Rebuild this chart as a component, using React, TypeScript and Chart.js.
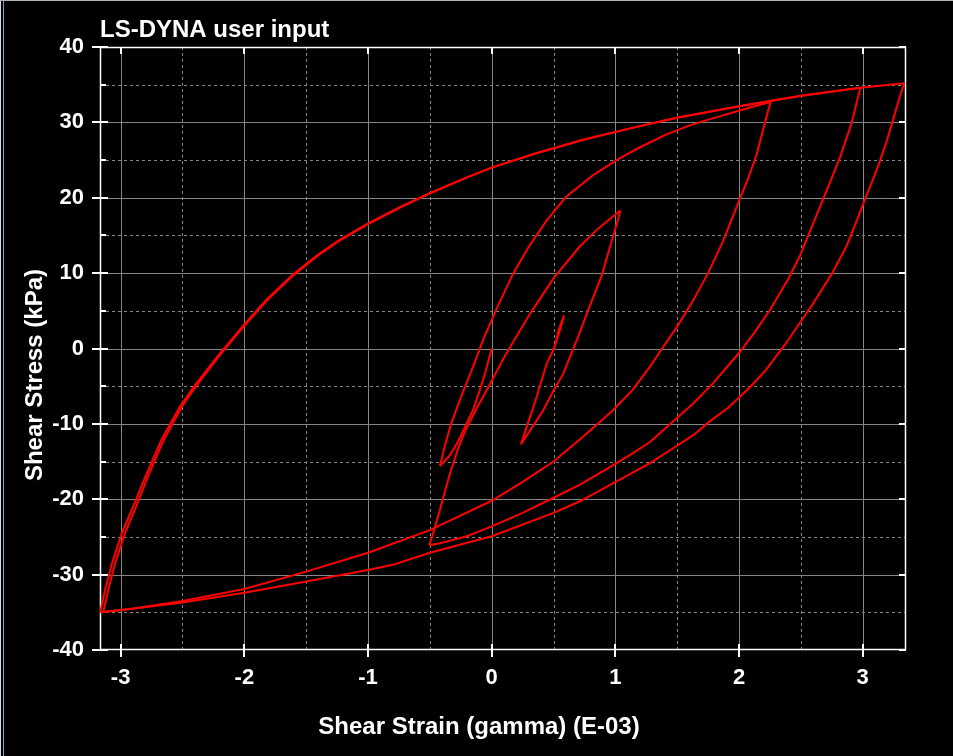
import React, { useEffect, useRef } from "react";
import { Chart, registerables } from "chart.js";

Chart.register(...registerables);

const FONT = '"Liberation Sans", Arial, Helvetica, sans-serif';

// ---- axis ticks ----
const xMajor = [-3, -2, -1, 0, 1, 2, 3];
const xMinor = [-2.5, -1.5, -0.5, 0.5, 1.5, 2.5];
const yMajor = [-40, -30, -20, -10, 0, 10, 20, 30, 40];
const yMinor = [-35, -25, -15, -5, 5, 15, 25, 35];
const xMin = -3.167;
const xMax = 3.35;
const yMin = -40;
const yMax = 40;

const titleText = "LS-DYNA user input";
const xTitle = "Shear Strain (gamma) (E-03)";
const yTitle = "Shear Stress (kPa)";

// ---- hysteresis branches (strain E-03, stress kPa) ----
// 1: initial loading 0 -> first reversal
const strainB1 = [0, -0.05, -0.1, -0.15, -0.21, -0.27, -0.34, -0.418];
const stressB1 = [0, -3.1, -5.7, -8.1, -10.2, -12.3, -14.2, -15.6];

// 2: reload to (2.25, 32.7)
const strainB2 = [-0.418, -0.38, -0.33, -0.25, -0.15, -0.07, 0.04, 0.175, 0.3, 0.445, 0.6, 0.82, 1.04, 1.2, 1.4, 1.6, 1.8, 1.95, 2.14, 2.255];
const stressB2 = [-15.6, -13.0, -10.1, -6.5, -2.4, 1.1, 5.3, 10.0, 13.5, 17.0, 20.1, 23.0, 25.3, 26.7, 28.3, 29.6, 30.6, 31.3, 32.2, 32.7];

// 3: unload to (-3.17, -35)
const strainB3 = [2.255, 2.21, 2.14, 2.07, 2.0, 1.94, 1.87, 1.75, 1.63, 1.5, 1.37, 1.28, 1.14, 0.98, 0.85, 0.71, 0.5, 0.25, 0, -0.5, -1.0, -1.5, -2.0, -2.5, -2.94, -3.165];
const stressB3 = [32.7, 30.0, 25.6, 22.4, 19.6, 17.1, 14.2, 10.0, 6.4, 2.9, -0.2, -2.4, -5.5, -8.2, -10.1, -12.1, -15.0, -17.7, -20.2, -24.1, -27.1, -29.6, -31.9, -33.5, -34.6, -35.0];

// 4: reload to (3.335, 35.2)
const strainB4 = [-3.165, -3.126, -3.07, -2.99, -2.91, -2.8, -2.67, -2.52, -2.4, -2.21, -2.0, -1.82, -1.6, -1.4, -1.23, -1.01, -0.74, -0.5, -0.2, 0, 0.34, 0.74, 1.145, 1.495, 1.99, 2.49, 2.98, 3.335];
const stressB4 = [-35.0, -32.0, -28.5, -24.5, -21.4, -17.0, -12.1, -7.7, -4.9, -0.9, 3.2, 6.5, 9.9, 12.5, 14.4, 16.5, 18.8, 20.6, 22.7, 24.0, 25.8, 27.7, 29.3, 30.6, 32.1, 33.5, 34.6, 35.2];

// 5: unload to (-3.14, -35)
const strainB5 = [3.335, 3.3, 3.25, 3.19, 3.14, 3.08, 3.03, 2.96, 2.87, 2.75, 2.6, 2.38, 2.22, 2.09, 1.91, 1.76, 1.63, 1.47, 1.28, 0.98, 0.71, 0.5, 0, -0.5, -0.8, -1.0, -1.5, -2.0, -2.5, -2.94, -3.14];
const stressB5 = [35.2, 33.4, 30.6, 27.3, 24.9, 22.3, 20.3, 17.3, 13.6, 9.9, 6.0, 0.7, -2.8, -5.1, -7.9, -9.7, -11.5, -13.2, -15.2, -17.9, -20.3, -21.8, -24.9, -27.1, -28.7, -29.4, -30.9, -32.4, -33.7, -34.6, -34.95];

// 6: reload to (2.98, 34.6)
const strainB6 = [-3.14, -3.1, -3.045, -2.965, -2.885, -2.78, -2.65, -2.505, -2.385, -2.2, -1.99, -1.81, -1.59, -1.39, -1.23, -1.0, -0.74, -0.5, -0.2, 0, 0.34, 0.74, 1.145, 1.495, 1.99, 2.49, 2.98];
const stressB6 = [-34.95, -32.0, -28.5, -24.5, -21.4, -17.0, -12.1, -7.7, -4.9, -0.9, 3.2, 6.5, 9.9, 12.5, 14.3, 16.5, 18.7, 20.6, 22.7, 24.0, 25.8, 27.7, 29.3, 30.6, 32.1, 33.5, 34.6];

// 7: unload to (-0.504, -26.1)
const strainB7 = [2.98, 2.91, 2.82, 2.71, 2.61, 2.49, 2.4, 2.25, 2.12, 2.0, 1.79, 1.63, 1.48, 1.28, 1.12, 0.98, 0.71, 0.5, 0.25, 0, -0.2, -0.42, -0.504];
const stressB7 = [34.6, 29.9, 25.5, 21.0, 17.0, 12.2, 9.3, 5.1, 2.0, -0.6, -4.6, -7.3, -9.5, -12.4, -14.1, -15.5, -18.1, -19.8, -21.8, -23.6, -24.9, -25.85, -26.1];

// 8: reload to (1.04, 18.3)
const strainB8 = [-0.504, -0.46, -0.42, -0.37, -0.33, -0.27, -0.21, -0.12, -0.01, 0.1, 0.2, 0.31, 0.5, 0.71, 0.86, 1.04];
const stressB8 = [-26.1, -23.8, -21.5, -18.5, -16.2, -13.2, -10.8, -7.9, -4.6, -1.2, 1.6, 4.6, 9.3, 13.5, 15.9, 18.3];

// 9: unload to (0.237, -12.7)
const strainB9 = [1.04, 1.02, 0.98, 0.89, 0.79, 0.7, 0.58, 0.5, 0.417, 0.33, 0.237];
const stressB9 = [18.3, 17.0, 14.8, 9.7, 5.5, 1.6, -3.3, -5.6, -8.2, -10.4, -12.7];

// 10: small reload to (0.585, 4.4) and back
const strainB10 = [0.237, 0.283, 0.364, 0.445, 0.51, 0.54, 0.585, 0.555, 0.52, 0.5];
const stressB10 = [-12.7, -10.4, -6.4, -2.0, 0.2, 2.4, 4.4, 2.6, 0.8, -0.1];

const branches: [number[], number[]][] = [
  [strainB1, stressB1],
  [strainB2, stressB2],
  [strainB3, stressB3],
  [strainB4, stressB4],
  [strainB5, stressB5],
  [strainB6, stressB6],
  [strainB7, stressB7],
  [strainB8, stressB8],
  [strainB9, stressB9],
  [strainB10, stressB10],
];

const framePlugin = {
  id: "lsFrame",
  beforeDraw(chart: any) {
    const { ctx, width, height } = chart;
    ctx.save();
    ctx.fillStyle = "#000000";
    ctx.fillRect(0, 0, width, height);
    ctx.fillStyle = "#d3dbea";
    ctx.fillRect(0, 0, 1, height);
    ctx.fillStyle = "#8a9bbd";
    ctx.fillRect(3, 0, 1, height);
    ctx.fillStyle = "#b4b4b4";
    ctx.fillRect(0, 0, width, 1);
    ctx.restore();
  },
  beforeDatasetsDraw(chart: any) {
    const { ctx, chartArea } = chart;
    const { left, right, top, bottom } = chartArea;
    const xs = chart.scales.x;
    const ys = chart.scales.y;
    ctx.save();
    ctx.lineWidth = 1;
    ctx.strokeStyle = "#858585";
    const vline = (v: number, dash: number[]) => {
      const p = Math.round(xs.getPixelForValue(v)) + 0.5;
      ctx.setLineDash(dash);
      ctx.beginPath();
      ctx.moveTo(p, top);
      ctx.lineTo(p, bottom);
      ctx.stroke();
    };
    const hline = (v: number, dash: number[]) => {
      const p = Math.round(ys.getPixelForValue(v)) + 0.5;
      ctx.setLineDash(dash);
      ctx.beginPath();
      ctx.moveTo(left, p);
      ctx.lineTo(right, p);
      ctx.stroke();
    };
    xMinor.forEach((v) => vline(v, [3, 3]));
    yMinor.forEach((v) => hline(v, [3, 3]));
    xMajor.forEach((v) => vline(v, []));
    yMajor.forEach((v) => { if (v > yMin && v < yMax) hline(v, []); });
    ctx.setLineDash([]);

    // white frame
    ctx.strokeStyle = "#ffffff";
    ctx.lineWidth = 1.5;
    ctx.strokeRect(Math.round(left) + 0.5, Math.round(top) + 0.5, Math.round(right - left) - 1, Math.round(bottom - top) - 1);

    // tick marks
    ctx.lineWidth = 2;
    yMajor.forEach((v) => {
      const p = Math.round(ys.getPixelForValue(v));
      ctx.beginPath();
      ctx.moveTo(left - 8, p); ctx.lineTo(left + 8, p);
      ctx.moveTo(right - 7, p); ctx.lineTo(right, p);
      ctx.stroke();
    });
    yMinor.forEach((v) => {
      const p = Math.round(ys.getPixelForValue(v));
      ctx.beginPath();
      ctx.moveTo(left, p); ctx.lineTo(left + 6, p);
      ctx.stroke();
    });
    xMajor.forEach((v) => {
      const p = Math.round(xs.getPixelForValue(v));
      ctx.beginPath();
      ctx.moveTo(p, top); ctx.lineTo(p, top + 7);
      ctx.moveTo(p, bottom - 6); ctx.lineTo(p, bottom + 7);
      ctx.stroke();
    });
    ctx.restore();
  },
  afterDraw(chart: any) {
    const { ctx } = chart;
    ctx.save();
    ctx.fillStyle = "#ffffff";
    ctx.font = `bold 24px ${FONT}`;
    ctx.textAlign = "left";
    ctx.textBaseline = "alphabetic";
    ctx.fillText(titleText, 100, 37);

    ctx.textAlign = "center";
    ctx.textBaseline = "middle";
    ctx.fillText(xTitle, 479, 727);

    ctx.translate(35, 375);
    ctx.rotate(-Math.PI / 2);
    ctx.fillText(yTitle, 0, 0);
    ctx.restore();
  },
};

export default function App() {
  const ref = useRef<HTMLCanvasElement>(null);

  useEffect(() => {
    document.body.style.margin = "0";
    document.body.style.background = "#000000";
    const canvas = ref.current;
    if (!canvas) return;

    const datasets = branches.map(([sx, sy], i) => ({
      label: `branch ${i + 1}`,
      data: sx.map((x, j) => ({ x, y: sy[j] })),
      showLine: true,
      borderColor: "#ff0000",
      backgroundColor: "#ff0000",
      borderWidth: 2,
      pointRadius: 0,
      pointHoverRadius: 0,
      fill: false,
      tension: 0,
    }));

    const chart = new Chart(canvas, {
      type: "scatter",
      data: { datasets },
      plugins: [framePlugin],
      options: {
        responsive: false,
        animation: false,
        events: [],
        layout: { padding: { left: 0, right: 47, top: 47, bottom: 0 } },
        plugins: {
          legend: { display: false },
          tooltip: { enabled: false },
          title: { display: false },
        },
        scales: {
          x: {
            type: "linear",
            min: xMin,
            max: xMax,
            afterFit: (s: any) => { s.height = 106; },
            grid: { display: false, drawTicks: false },
            border: { display: false },
            ticks: {
              stepSize: 1,
              includeBounds: false,
              color: "#ffffff",
              padding: 15,
              maxRotation: 0,
              autoSkip: false,
              font: { family: FONT, size: 22, weight: "bold" },
              callback: (v: any) => String(v),
            },
          },
          y: {
            type: "linear",
            min: yMin,
            max: yMax,
            afterFit: (s: any) => { s.width = 100; },
            grid: { display: false, drawTicks: false },
            border: { display: false },
            ticks: {
              stepSize: 10,
              includeBounds: false,
              color: "#ffffff",
              padding: 16,
              autoSkip: false,
              font: { family: FONT, size: 22, weight: "bold" },
              callback: (v: any) => String(v),
            },
          },
        },
      } as any,
    });

    return () => chart.destroy();
  }, []);

  return (
    <canvas
      ref={ref}
      width={953}
      height={756}
      style={{ display: "block", width: 953, height: 756 }}
    />
  );
}
